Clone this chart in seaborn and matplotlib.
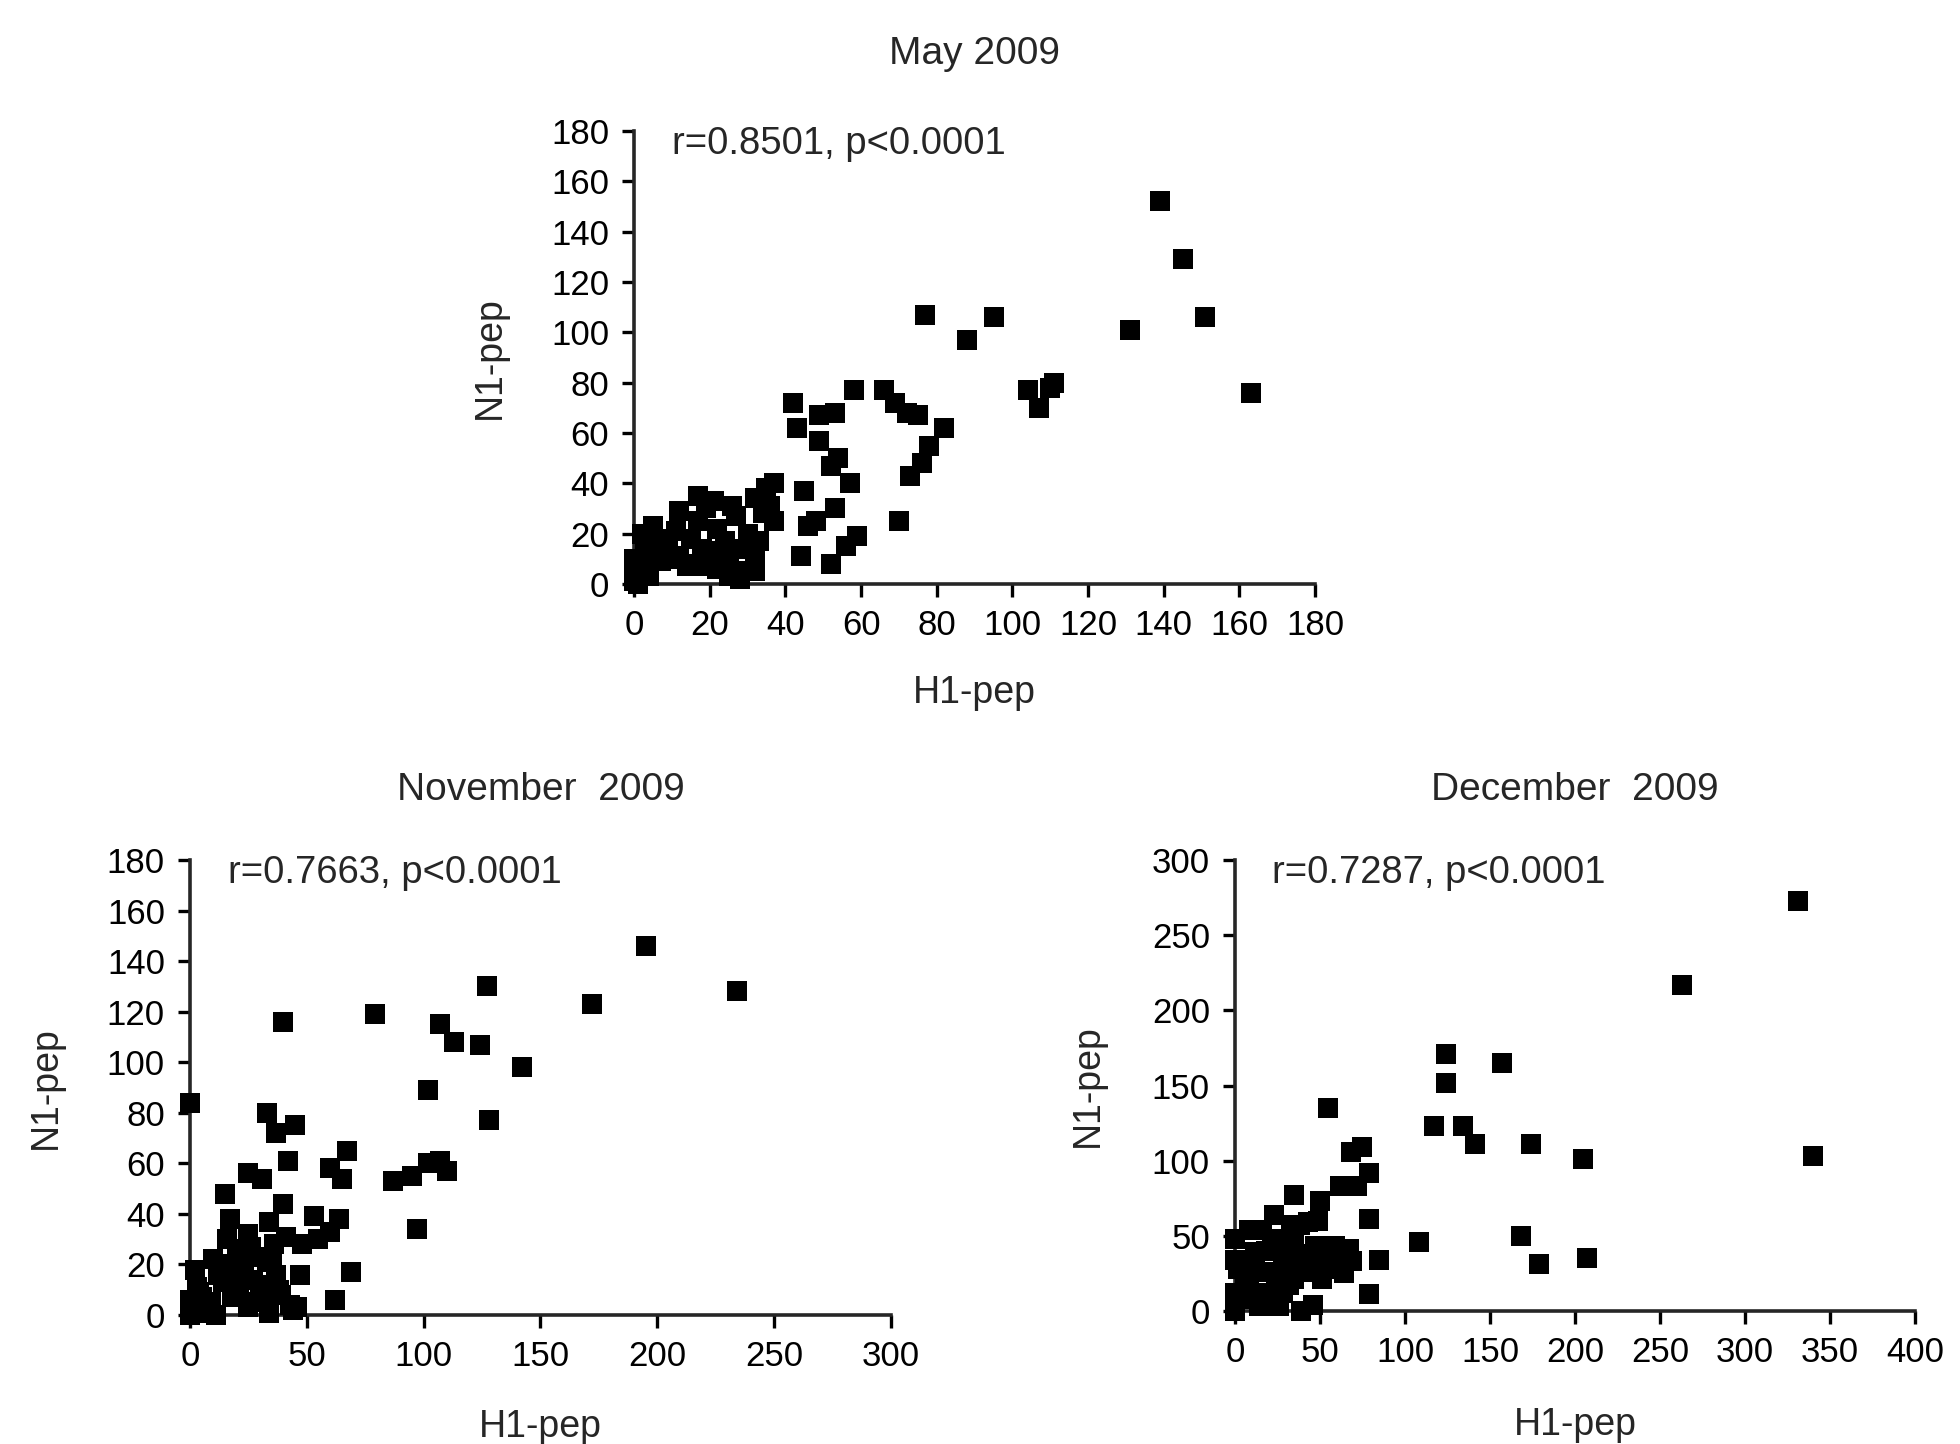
import matplotlib
matplotlib.use("Agg")
import matplotlib.pyplot as plt
import seaborn as sns
import pandas as pd

# May 2009 (rows of H1 and N1 are aligned pairwise)
may_h1 = [139, 145, 151, 131, 163, 77, 88, 95, 82, 104, 107, 110, 111,
          58, 66, 69, 72, 75, 42, 43, 49, 53, 49, 54, 52, 57, 78, 76, 73, 70,
          45, 53, 48, 46, 59, 56, 44, 52,
          37, 35, 32, 27, 37, 17, 21, 12, 5, 17, 15, 22, 24, 25, 27, 28, 32,
          32, 33, 9, 9, 12, 3, 0, 2, 0, 4, 18, 20, 22, 18, 7, 14, 25, 19, 30,
          34, 29, 2, 6, 11, 14, 26, 36, 0, 1]
may_n1 = [152, 129, 106, 101, 76, 107, 97, 106, 62, 77, 70, 78, 80,
          77, 77, 72, 68, 67, 72, 62, 57, 68, 67, 50, 47, 40, 55, 48, 43, 25,
          37, 30, 25, 23, 19, 15, 11, 8,
          40, 38, 34, 27, 25, 35, 33, 29, 23, 25, 18, 22, 17, 11, 5, 2, 11,
          5, 17, 18, 10, 11, 14, 10, 6, 1, 3, 14, 13, 6, 7, 9, 7, 3, 30, 20,
          28, 14, 20, 16, 21, 8, 31, 31, 4, 0]

# November 2009
nov_h1 = [195, 234, 172, 127, 79, 40, 107, 113, 124, 142, 102, 128, 0,
          33, 37, 45, 42, 67, 60, 65, 25, 31, 87, 95, 102, 107, 110, 97,
          15, 17, 40, 34, 53, 64, 48, 55, 60, 47, 69, 62,
          25, 36, 10, 20, 23, 37, 18, 5, 1, 8, 25, 34, 43, 46, 31, 12, 15,
          4, 30, 39, 0, 3, 14, 22, 28, 33, 41, 44, 6, 9, 19, 27, 38, 2, 24,
          35, 16, 21, 29, 0, 11, 7, 26]
nov_n1 = [146, 128, 123, 130, 119, 116, 115, 108, 107, 98, 89, 77, 84,
          80, 72, 75, 61, 65, 58, 54, 56, 54, 53, 55, 60, 61, 57, 34,
          48, 38, 44, 37, 39, 38, 28, 30, 33, 16, 17, 6,
          32, 28, 22, 25, 17, 16, 7, 7, 4, 1, 3, 1, 4, 3, 7, 16, 20,
          9, 12, 8, 0, 11, 13, 19, 23, 21, 31, 2, 2, 5, 9, 14, 10, 18, 26,
          22, 30, 11, 5, 6, 0, 4, 27]

# December 2009
dec_h1 = [331, 263, 340, 124, 124, 157, 117, 134, 141, 174, 205, 108,
          168, 179, 207, 55, 68, 75, 79, 62, 72, 79, 85, 79,
          35, 50, 23, 43, 49, 33,
          0, 8, 16, 38, 0, 12, 24, 35, 47, 59, 67, 69, 57, 51, 43, 35, 28,
          20, 6, 0, 8, 20, 14, 26, 0, 39, 46, 37, 49, 29, 12, 24, 28, 4,
          30, 41, 53, 62, 18, 10, 44, 64, 55, 32, 15, 2, 22]
dec_n1 = [273, 217, 103, 171, 152, 165, 123, 123, 111, 111, 101, 46,
          50, 31, 35, 135, 106, 109, 92, 83, 83, 61, 34, 11,
          77, 73, 64, 59, 60, 57,
          48, 54, 54, 57, 34, 39, 43, 46, 43, 43, 41, 33, 28, 21, 26, 21, 30,
          26, 23, 12, 17, 12, 3, 3, 0, 0, 4, 34, 37, 39, 30, 21, 12, 8,
          47, 38, 30, 36, 40, 27, 31, 25, 40, 17, 6, 28, 48]

titles = ["May 2009", "November  2009", "December  2009"]
notes = ["r=0.8501, p<0.0001", "r=0.7663, p<0.0001", "r=0.7287, p<0.0001"]
x_max = [180, 300, 400]
x_step = [20, 50, 50]
y_max = [180, 180, 300]
y_step = [20, 20, 50]

# axes rectangles in figure fraction, plus per-panel text offsets
rects = [[0.3235, 0.5956, 0.3475, 0.3137],
         [0.0969, 0.0893, 0.3577, 0.3151],
         [0.6301, 0.0921, 0.3469, 0.3123]]
title_pad = [48, 43, 43]
xlabel_pad = [24, 26, 27]
ylabel_pad = [31, 31, 33]

sns.set_style("ticks")
plt.rcParams["font.family"] = ["Liberation Sans", "DejaVu Sans"]
plt.rcParams["axes.linewidth"] = 2.6
plt.rcParams["xtick.major.width"] = 2.4
plt.rcParams["ytick.major.width"] = 2.4
plt.rcParams["xtick.major.size"] = 9
plt.rcParams["ytick.major.size"] = 9
plt.rcParams["xtick.major.pad"] = 9
plt.rcParams["ytick.major.pad"] = 9

fig = plt.figure(figsize=(19.6, 14.44), dpi=100)

data = [(may_h1, may_n1), (nov_h1, nov_n1), (dec_h1, dec_n1)]
for i, (h1, n1) in enumerate(data):
    ax = fig.add_axes(rects[i])
    df = pd.DataFrame({"H1-pep": h1, "N1-pep": n1})
    sns.scatterplot(data=df, x="H1-pep", y="N1-pep", ax=ax, marker="s",
                    color="black", s=190, linewidth=0, clip_on=False,
                    zorder=3)
    ax.set_xlim(0, x_max[i])
    ax.set_ylim(0, y_max[i])
    ax.set_xticks(range(0, x_max[i] + 1, x_step[i]))
    ax.set_yticks(range(0, y_max[i] + 1, y_step[i]))
    ax.tick_params(labelsize=25, colors="black")
    ax.set_xlabel("H1-pep", fontsize=27, labelpad=xlabel_pad[i])
    ax.set_ylabel("N1-pep", fontsize=27, labelpad=ylabel_pad[i])
    ax.set_title(titles[i], fontsize=28, pad=title_pad[i])
    ax.text(0.055, 0.972, notes[i], transform=ax.transAxes, fontsize=27.5,
            va="center", ha="left")
    sns.despine(ax=ax)

fig.savefig("out.png", dpi=100, facecolor="white")
